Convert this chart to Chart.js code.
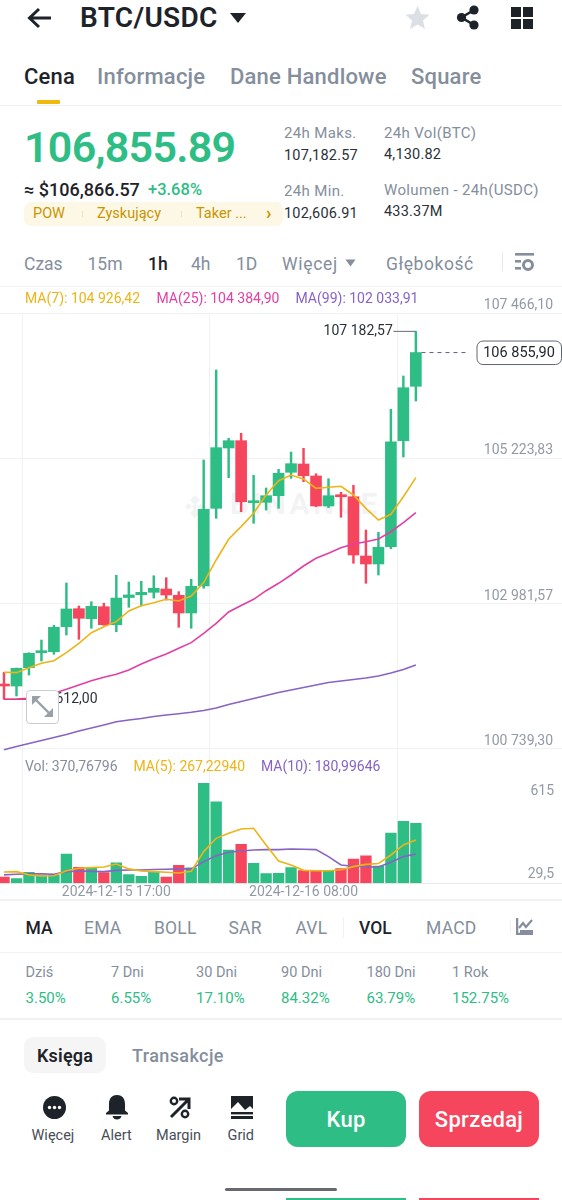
<!DOCTYPE html>
<html lang="pl">
<head>
<meta charset="utf-8">
<title>BTC/USDC</title>
<script src="https://cdn.jsdelivr.net/npm/chart.js@4"></script>
<style>
html,body{margin:0;padding:0;background:#fff;}
body{position:relative;width:562px;height:1200px;overflow:hidden;font-family:Roboto,"Noto Sans",sans-serif;color:#1e2329;}
.t{position:absolute;white-space:nowrap;transform:translateY(-50%);line-height:1.2;}
.b{position:absolute;}
canvas{position:absolute;left:0;}
svg{position:absolute;}
</style>
</head>
<body>
<canvas id="priceChart" width="562" height="470" style="top:285px;width:562px;height:470px"></canvas>
<canvas id="volChart" width="562" height="145" style="top:755px;width:562px;height:145px"></canvas>
<script>
// ---------- chart data ----------
const timeLabels = ["2024-12-15 08:00","2024-12-15 09:00","2024-12-15 10:00","2024-12-15 11:00","2024-12-15 12:00","2024-12-15 13:00","2024-12-15 14:00","2024-12-15 15:00","2024-12-15 16:00","2024-12-15 17:00","2024-12-15 18:00","2024-12-15 19:00","2024-12-15 20:00","2024-12-15 21:00","2024-12-15 22:00","2024-12-15 23:00","2024-12-16 00:00","2024-12-16 01:00","2024-12-16 02:00","2024-12-16 03:00","2024-12-16 04:00","2024-12-16 05:00","2024-12-16 06:00","2024-12-16 07:00","2024-12-16 08:00","2024-12-16 09:00","2024-12-16 10:00","2024-12-16 11:00","2024-12-16 12:00","2024-12-16 13:00","2024-12-16 14:00","2024-12-16 15:00","2024-12-16 16:00","2024-12-16 17:00"];
const opens  = [101726,101710,101993,102224,102240,102625,102903,102749,102934,102656,103076,103119,103156,103207,103110,102837,103253,104452,105383,105496,104539,104545,104647,105008,105136,104951,104488,104658,104631,103716,103593,103860,105496,106335];
const closes = [101710,101984,102215,102255,102616,102899,102755,102940,102656,103068,103115,103156,103218,103115,102837,103249,104437,105388,105496,104554,104565,104647,104993,105141,104956,104488,104647,104631,103732,103593,103851,105480,106313,106855.90];
const highs  = [101922,101988,102224,102420,102647,103300,102945,103011,102987,103419,103315,103326,103412,103382,103166,103357,105198,106587,105533,105610,104962,104766,105054,105321,105378,104986,104909,104699,104807,104118,104082,105980,106494,107182.57];
const lows   = [101505,101556,101880,102096,102200,102497,102431,102601,102647,102548,102925,102945,103068,103037,102616,102601,103218,104298,104925,104400,104221,104426,104452,104915,104863,104477,104462,104314,103604,103295,103423,103829,105244,106108];
const ma7    = [101922,101916,101993,102061,102101,102224,102369,102533,102625,102703,102868,102949,102996,103048,103022,103099,103307,103655,103974,104169,104375,104658,104878,104966,104905,104761,104777,104792,104658,104452,104272,104360,104631,104926.42];
const ma25   = [101505,101510,101521,101561,101598,101659,101726,101792,101845,101891,101957,102050,102132,102204,102292,102379,102524,102678,102852,102953,103048,103181,103295,103423,103562,103681,103758,103844,103902,103937,103979,104091,104230,104384.90];
const ma99   = [100727,100777,100823,100869,100916,100962,101016,101062,101109,101159,101186,101209,101240,101263,101283,101305,101332,101371,101425,101471,101517,101564,101610,101649,101687,101726,101764,101788,101811,101834,101865,101911,101965,102033.91];
const volumes= [39,29,68,47,51,181,99,95,66,126,54,43,70,39,111,95,618,503,206,241,124,60,62,97,78,76,76,91,150,169,107,311,383,370.77];
const volMa5 = [70,72,52,45,47,78,93,97,101,119,89,76,72,68,64,74,196,278,309,336,340,237,138,113,80,78,78,84,103,117,122,175,237,267.23];
const volMa10= [52,56,58,58,56,72,76,74,72,80,82,82,85,87,89,89,134,171,192,200,206,208,208,212,210,208,165,113,105,101,101,130,165,181.00];
const priceTicks = [107466.10,105223.83,102981.57,100739.30];
const priceTickLabels = ["107 466,10","105 223,83","102 981,57","100 739,30"];
const volTopTick = [615];
const volBottomTick = [29.5];
const volTopLabel = ["615"];
const volBottomLabel = ["29,5"];
const dateTickIndex = [9,24];
const lastPrice = 106855.90;
const lastPriceLabel = "106 855,90";
const highLabel = "107 182,57";
const lowLabel = "101 612,00";
// ---------- style ----------
const GREEN="#2EBD85", RED="#F6465D", YEL="#EDB416", PINK="#E23FA4", PUR="#8763C4", GREY="#929AA5", GRID="#EFF1F3";
const candleCols = opens.map((o,i)=> closes[i]>=o ? GREEN : RED);
const xy = a => a.map((v,i)=>({x:i,y:v}));
const xRange = {min:-0.3205,max:44.71};
const zeroPad = s => {s.paddingTop=0;s.paddingBottom=0;s.paddingLeft=0;s.paddingRight=0;};
const noFit = s => {s.width=0;zeroPad(s);};
function xScale(extra){
  return Object.assign({type:"linear",min:xRange.min,max:xRange.max,offset:false,
    afterBuildTicks:s=>{s.ticks=dateTickIndex.map(v=>({value:v}));},
    grid:{color:GRID,lineWidth:1,drawTicks:false},border:{display:false}},extra);
}
function yAxis(vals,labels,off,padding){
  return {type:"linear",position:"right",afterFit:noFit,
    afterBuildTicks:s=>{s.ticks=vals.map(v=>({value:v}));},
    border:{display:false},grid:{display:false,drawTicks:false},
    ticks:{mirror:true,padding:padding,labelOffset:off,autoSkip:false,color:GREY,font:{family:"Roboto",size:14},
      callback:v=>labels[vals.indexOf(v)]}};
}
const line=(label,arr,col,order,w)=>({type:"line",label,data:xy(arr),borderColor:col,borderWidth:w||1.6,pointRadius:0,tension:0,order,clip:false});

const overlay={id:"overlay",
  beforeDatasetsDraw(c){
    const g=c.ctx; g.save();
    g.fillStyle="#F2F3F5"; g.font="700 30px Roboto"; g.textBaseline="middle"; g.textAlign="left";
    if("letterSpacing" in g) g.letterSpacing="3.4px";
    const wy=c.scales.y.getPixelForValue(104480), wx=c.scales.x.getPixelForValue(18.1);
    g.fillText("BINANCE",wx,wy);
    if("letterSpacing" in g) g.letterSpacing="0px";
    const dx=c.scales.x.getPixelForValue(15.3);
    [[0,-6.5,3.5],[-6.5,0,2.4],[6.5,0,2.4],[0,6.5,3.5],[0,0,2]].forEach(p=>{
      g.save(); g.translate(dx+p[0],wy+p[1]); g.rotate(Math.PI/4); g.fillRect(-p[2],-p[2],p[2]*2,p[2]*2); g.restore();
    });
    g.restore();
  },
  afterDatasetsDraw(c){
    const g=c.ctx,X=c.scales.x,Y=c.scales.y; g.save();
    g.font="14px Roboto"; g.textBaseline="middle"; g.fillStyle="#2B3139";
    g.textAlign="right"; g.fillText(highLabel,X.getPixelForValue(31.15),Y.getPixelForValue(highs[33]));
    g.textAlign="left";  g.fillText(lowLabel,X.getPixelForValue(1.95),Y.getPixelForValue(lows[0]));
    const py=Y.getPixelForValue(lastPrice), bx=X.getPixelForValue(37.9);
    g.beginPath(); g.roundRect(bx,py-11.5,84.5,23.5,6); g.fillStyle="#fff"; g.fill(); g.lineWidth=1; g.strokeStyle="#5E6673"; g.stroke();
    g.fillStyle="#1E2329"; g.font="14.5px Roboto"; g.textAlign="center"; g.fillText(lastPriceLabel,bx+42,py+0.5);
    g.restore();
  }};

new Chart(document.getElementById("priceChart"),{
  type:"bar",
  data:{datasets:[
    {type:"bar",label:"High-Low",data:highs.map((h,i)=>({x:i,y:[lows[i],h]})),backgroundColor:candleCols,barThickness:1.8,grouped:false,order:5},
    {type:"bar",label:"Open-Close",data:opens.map((o,i)=>({x:i,y:[o,closes[i]]})),backgroundColor:candleCols,barThickness:11,grouped:false,order:4,minBarLength:2},
    line("MA(99)",ma99,PUR,3),
    line("MA(25)",ma25,PINK,2),
    line("MA(7)",ma7,YEL,1),
    {type:"line",label:"High marker",data:[{x:31.2,y:highs[33]},{x:33,y:highs[33]}],borderColor:"#666C75",borderWidth:1,pointRadius:0,order:0},
    {type:"line",label:"Low marker",data:[{x:0,y:lows[0]},{x:1.8,y:lows[0]}],borderColor:"#E23F7A",borderWidth:1.4,pointRadius:0,order:0},
    {type:"line",label:"Last price",data:[{x:33.45,y:lastPrice},{x:37.2,y:lastPrice}],borderColor:"#5E6673",borderWidth:1,borderDash:[4,4],pointRadius:0,order:0}
  ]},
  options:{responsive:false,animation:false,events:[],
    layout:{padding:{top:28,left:0,right:0,bottom:0}},
    plugins:{legend:{display:false},tooltip:{enabled:false}},
    scales:{
      x:xScale({ticks:{display:false},afterFit:s=>{s.height=0;zeroPad(s);}}),
      y:Object.assign(yAxis(priceTicks,priceTickLabels,-7.5,-9),{min:100645.6,max:107466.1,
        grid:{display:true,color:GRID,lineWidth:1,drawTicks:false}})
    }
  },
  plugins:[overlay]
});

new Chart(document.getElementById("volChart"),{
  type:"bar",
  data:{datasets:[
    {type:"bar",label:"Vol",data:xy(volumes),backgroundColor:candleCols,barThickness:10.7,grouped:false,order:3,yAxisID:"y"},
    Object.assign(line("MA(10)",volMa10,PUR,2),{yAxisID:"y"}),
    Object.assign(line("MA(5)",volMa5,YEL,1),{yAxisID:"y"})
  ]},
  options:{responsive:false,animation:false,events:[],
    layout:{padding:0},
    plugins:{legend:{display:false},tooltip:{enabled:false}},
    scales:{
      x:xScale({afterFit:s=>{s.height=16.7;zeroPad(s);},ticks:{autoSkip:false,maxRotation:0,minRotation:0,padding:1,color:GREY,font:{family:"Roboto",size:14},callback:v=>timeLabels[v]}}),
      y:{type:"linear",position:"right",min:0,max:792.9,afterFit:noFit,
         afterBuildTicks:s=>{s.ticks=[{value:0}];},
         border:{display:false},grid:{color:"#E8EAED",drawTicks:false},ticks:{display:false}},
      yTop:Object.assign(yAxis(volTopTick,volTopLabel,8,-8),{min:0,max:792.9}),
      yBottom:Object.assign(yAxis(volBottomTick,volBottomLabel,-4.5,-8),{min:0,max:792.9})
    }
  }
});

// ---------- surrounding screen ----------
const DARK="#1E2329", GR="#848E9C";
function T(x,y,s,st){const d=document.createElement("div");d.className="t";d.textContent=s;d.style.left=x+"px";d.style.top=y+"px";d.style.cssText+=";"+(st||"");document.body.appendChild(d);return d;}
function R(x,y,w,h,c,r){const d=document.createElement("div");d.className="b";d.style.cssText=`left:${x}px;top:${y}px;width:${w}px;height:${h}px;background:${c};border-radius:${r||0}px`;document.body.appendChild(d);return d;}
function S(x,y,w,h,inner){const d=document.createElement("div");d.innerHTML=`<svg style="left:${x}px;top:${y}px" width="${w}" height="${h}" viewBox="0 0 ${w} ${h}">${inner}</svg>`;document.body.appendChild(d);}

// top bar
S(27,6,25,24,`<path d="M2 12H24M12 3L2.5 12L12 21" fill="none" stroke="${DARK}" stroke-width="3"/>`);
T(80,18,"BTC/USDC",`font-size:28px;font-weight:600;color:${DARK};letter-spacing:.3px`);
S(229,12,18,12,`<path d="M1 1H17L9 11Z" fill="${DARK}"/>`);
S(405,5,25,25,`<path d="M12.5 1L16 9L24.5 9.8L18 15.5L20 24L12.5 19.5L5 24L7 15.5L.5 9.8L9 9Z" fill="#DCDFE3"/>`);
S(456,5,24,25,`<g fill="${DARK}"><circle cx="18" cy="5" r="4.6"/><circle cx="18" cy="20" r="4.6"/><circle cx="5.5" cy="12.5" r="4.6"/></g><path d="M18 5L5.5 12.5L18 20" fill="none" stroke="${DARK}" stroke-width="2.6"/>`);
S(511,7,22,22,`<g fill="${DARK}"><rect width="10" height="10"/><rect x="12" width="10" height="10"/><rect y="12" width="10" height="10"/><rect x="12" y="12" width="10" height="10"/></g>`);
// tabs
const TB="font-size:22px;font-weight:500;letter-spacing:.2px;";
T(24,77,"Cena",`${TB}color:${DARK}`);
T(97,77,"Informacje",`${TB}color:${GR}`);
T(230,77,"Dane Handlowe",`${TB}color:${GR}`);
T(411,77,"Square",`${TB}color:${GR}`);
R(37,100,23,4,"#F0B90B",1);
R(0,104.5,562,1.5,"#EFF1F3");
// price block
T(24,148,"106,855.89",`font-size:43px;font-weight:600;color:${GREEN};letter-spacing:-.75px`);
T(24,190,"≈ $106,866.57",`font-size:18px;font-weight:500;color:${DARK}`);
T(148,190,"+3.68%",`font-size:16.5px;font-weight:500;color:${GREEN}`);
R(24,202,259,24,"#FDF7E6",7);
const TAG="font-size:14.5px;color:#C99400";
T(33,214,"POW",TAG);T(97,214,"Zyskujący",TAG);T(196,214,"Taker ...",TAG);T(266,213,"›","font-size:18px;font-weight:700;color:#C99400");
R(81.5,211,1,6,"#EFE3BC");R(181,211,1,6,"#EFE3BC");
const LBL=`font-size:15px;letter-spacing:.35px;color:${GR}`, VAL="font-size:14.5px;letter-spacing:.2px;color:#2B3139";
T(284,133,"24h Maks.",LBL);T(284,155.5,"107,182.57",VAL);T(284,190.5,"24h Min.",LBL);T(284,213.5,"102,606.91",VAL);
T(384,133,"24h Vol(BTC)",LBL);T(384,155,"4,130.82",VAL);T(384,189.5,"Wolumen - 24h(USDC)",LBL);T(384,212,"433.37M",VAL);
// interval row
const IV=`font-size:17.5px;color:${GR}`;
T(24,264,"Czas",IV);T(87.5,264,"15m",IV);T(148,264,"1h",`font-size:17.5px;font-weight:500;color:${DARK}`);T(191,264,"4h",IV);T(236,264,"1D",IV);T(282,264,"Więcej",IV+";letter-spacing:.7px");
S(345,259,11,8,`<path d="M.5 .5H10.5L5.5 7.5Z" fill="${GR}"/>`);
T(386,264,"Głębokość",IV+";letter-spacing:.55px");
R(502,253,1,18,"#E6E8EB");
S(515,253,20,19,`<g fill="${GR}"><rect x="0" y="0" width="19" height="2.6"/><rect x="0" y="7" width="6" height="2.6"/><rect x="0" y="14" width="6" height="2.6"/></g><circle cx="13" cy="12" r="4.5" fill="none" stroke="${GR}" stroke-width="3"/>`);
R(0,286,562,1,"#F2F3F5");
// MA legend
T(25,298,"MA(7): 104 926,42",`font-size:14px;color:${YEL}`);
T(156.5,298,"MA(25): 104 384,90",`font-size:14px;color:${PINK}`);
T(295.5,298,"MA(99): 102 033,91",`font-size:14px;color:${PUR}`);
// expand button
const ex=R(25.5,690,33.5,33.5,"#fff",4);ex.style.cssText+=";border:1px solid #C9CDD2;box-sizing:border-box;z-index:2";
S(31,695,24,24,`<g fill="#9AA0A8"><path d="M1 1H10L1 10Z"/><path d="M22 22H13L22 13Z"/></g><path d="M4 4L19 19" stroke="#9AA0A8" stroke-width="2.4"/>`);
document.body.lastChild.style.cssText="position:relative;z-index:3";
// volume legend
T(25,766,"Vol: 370,76796",`font-size:14px;color:${GR}`);
T(133.5,766,"MA(5): 267,22940",`font-size:14px;color:${YEL}`);
T(261,766,"MA(10): 180,99646",`font-size:14px;color:${PUR}`);
R(0,899,562,1.5,"#EFF1F3");
// indicator row
const IN=`font-size:17.5px;letter-spacing:.2px;color:${GR}`, INB=`font-size:17.5px;font-weight:500;color:${DARK}`;
T(25.5,928,"MA",INB);T(84,928,"EMA",IN);T(154,928,"BOLL",IN);T(228.5,928,"SAR",IN);T(295.5,928,"AVL",IN);
R(343,917,1,21,"#EFF1F3");
T(359,928,"VOL",INB);T(426,928,"MACD",IN);
R(510,920,1,14,"#EFF1F3");
S(516,918,18,17,`<path d="M1 0V16H17" fill="none" stroke="${GR}" stroke-width="2.5"/><path d="M3 10L7 5L10 9L16 2" fill="none" stroke="${GR}" stroke-width="2.2"/><rect x="4" y="12" width="13" height="4" fill="${GR}"/>`);
R(0,952,562,1,"#F2F3F5");
// performance row
const perfNames=["Dziś","7 Dni","30 Dni","90 Dni","180 Dni","1 Rok"], perfVals=["3.50%","6.55%","17.10%","84.32%","63.79%","152.75%"], perfX=[25.5,111,196,281,366.5,452];
perfNames.forEach((n,i)=>{T(perfX[i],973,n,`font-size:14.5px;color:${GR}`);T(perfX[i],998,perfVals[i],`font-size:15px;color:${GREEN}`);});
R(0,1018,562,1.5,"#EFF1F3");
// lower tabs
R(24,1037,82,36,"#F5F5F5",9);
T(37,1056,"Księga",`font-size:18px;font-weight:600;color:${DARK};letter-spacing:.2px`);
T(132,1056,"Transakcje",`font-size:18px;font-weight:500;color:${GR};letter-spacing:.4px`);
// action icons
S(43,1096,23,23,`<circle cx="11.5" cy="11.5" r="11.5" fill="${DARK}"/><g fill="#fff"><circle cx="6.5" cy="11.5" r="1.7"/><circle cx="11.5" cy="11.5" r="1.7"/><circle cx="16.5" cy="11.5" r="1.7"/></g>`);
S(106,1095,22,25,`<path d="M11 0C5 0 3 4.5 3 9V15.5L0 18V19.5H22V18L19 15.5V9C19 4.5 17 0 11 0Z" fill="${DARK}"/><path d="M6.5 21H15.5C15 23.5 13 24.5 11 24.5C9 24.5 7 23.5 6.5 21Z" fill="${DARK}"/>`);
S(169,1096,22,23,`<path d="M2 21L19 4M10 3H20V13" fill="none" stroke="${DARK}" stroke-width="3"/><circle cx="5" cy="5" r="3.2" fill="none" stroke="${DARK}" stroke-width="2.4"/><circle cx="16" cy="18" r="3.2" fill="none" stroke="${DARK}" stroke-width="2.4"/>`);
S(231,1096,22,23,`<path d="M0 0H22V13L19 10L14 14L7 6L0 13Z" fill="${DARK}"/><rect x="0" y="16" width="22" height="2.4" fill="${DARK}"/><rect x="0" y="20" width="22" height="3" fill="${DARK}"/>`);
const AC="font-size:14.5px;color:#474D57";
T(31.5,1135.5,"Więcej",AC);T(101,1135.5,"Alert",AC);T(156,1135.5,"Margin",AC);T(227.5,1135.5,"Grid",AC);
// buttons
const k=R(285.5,1091,120.5,56,GREEN,12);const s=R(418.5,1091,120.5,56,RED,12);
const BT="font-size:22px;font-weight:500;color:#fff;letter-spacing:.3px;transform:translate(-50%,-50%)";
T(346,1120,"Kup",BT);T(479,1120,"Sprzedaj",BT);
R(225,1188,112,3,"#666A70",2);
R(285.5,1198,120.5,2,GREEN);R(418.5,1198,120.5,2,RED);
</script>
</body>
</html>
